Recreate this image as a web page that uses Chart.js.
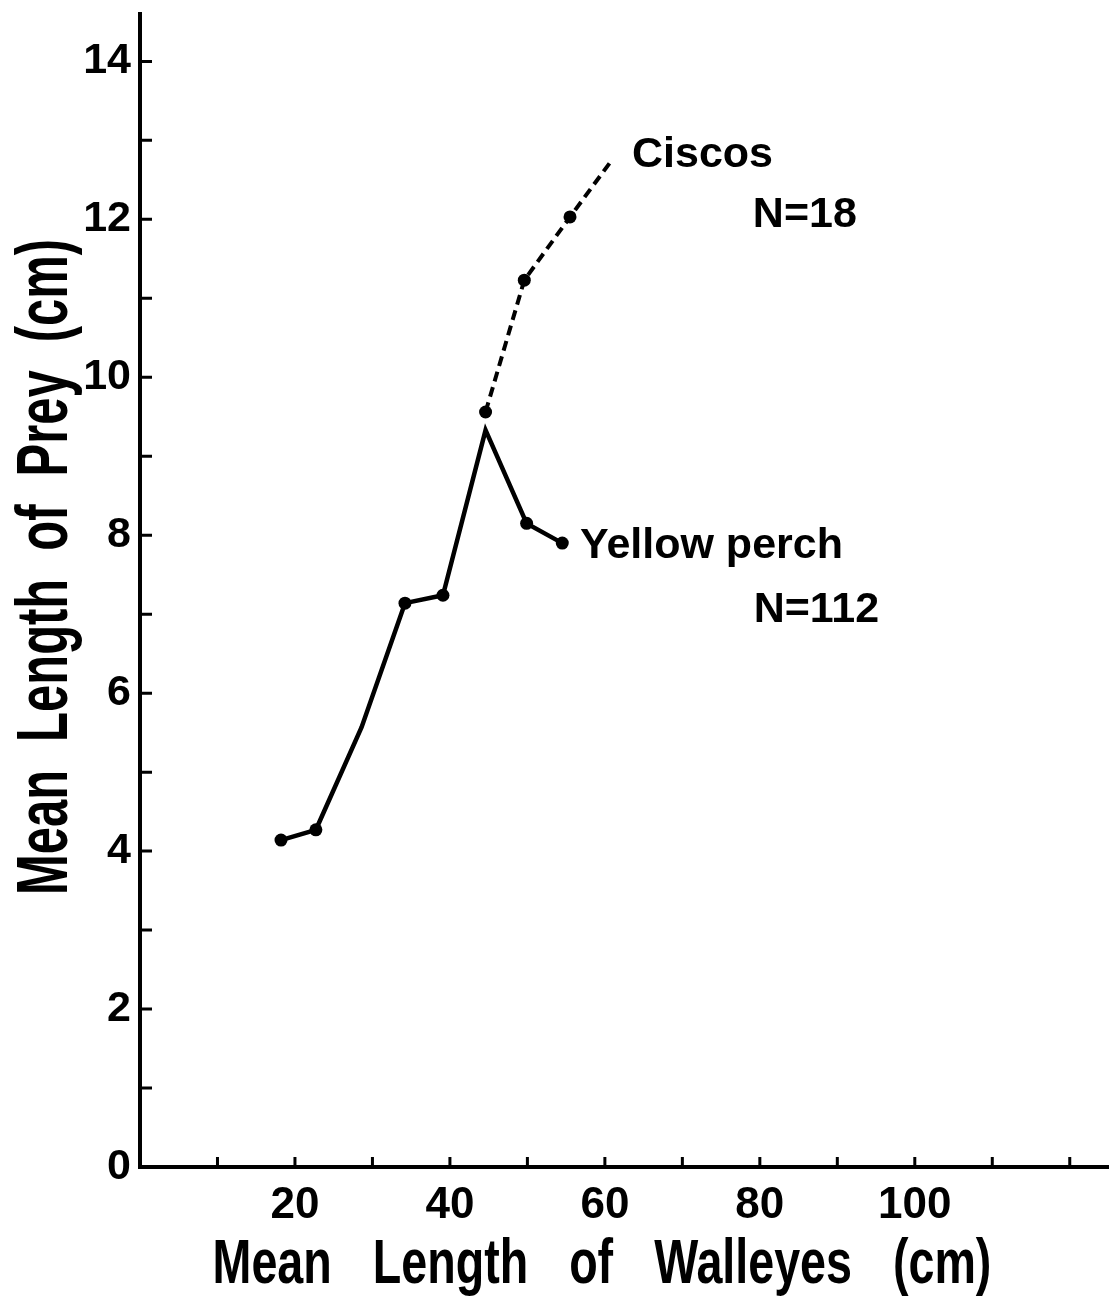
<!DOCTYPE html>
<html>
<head>
<meta charset="utf-8">
<script src="https://cdn.jsdelivr.net/npm/chart.js@4.4.0/dist/chart.umd.min.js"></script>
<style>
  html, body { margin: 0; padding: 0; background: #fff; }
  #wrap { width: 1115px; height: 1298px; }
</style>
</head>
<body>
<div id="wrap"><canvas id="preyChart" width="1115" height="1298"></canvas></div>
<script>
// walleye length (cm) vs mean length of prey eaten (cm)
const walleyeLengthPerch = [18.2, 22.7, 28.6, 34.2, 39.1, 44.6, 49.9, 54.5];
const preyLengthPerch = [4.14, 4.27, 5.57, 7.14, 7.24, 9.33, 8.15, 7.90];
const perchMarked = [true, true, false, true, true, false, true, true];

const walleyeLengthCisco = [44.6, 49.6, 55.5, 60.9];
const preyLengthCisco = [9.56, 11.23, 12.03, 12.75];
const ciscoMarked = [true, true, true, false];

const xTickValues = [0, 10, 20, 30, 40, 50, 60, 70, 80, 90, 100, 110, 120];
const xTickLabels = [20, 40, 60, 80, 100];
const yTickValues = [0, 1, 2, 3, 4, 5, 6, 7, 8, 9, 10, 11, 12, 13, 14];
const yTickLabels = [0, 2, 4, 6, 8, 10, 12, 14];

const xTitle = 'Mean Length of Walleyes (cm)';
const yTitle = 'Mean Length of Prey (cm)';
const ciscoLabel = ['Ciscos', 'N=18'];
const perchLabel = ['Yellow perch', 'N=112'];

const FONT = '"Liberation Sans", Arial, Helvetica, sans-serif';

function toPoints(xs, ys) {
  return xs.map((x, i) => ({ x: x, y: ys[i] }));
}

// tick marks point into the plot, like the printed figure
const insideTicks = {
  id: 'insideTicks',
  afterDraw(chart) {
    const ctx = chart.ctx;
    const { left, bottom } = chart.chartArea;
    const xs = chart.scales.x;
    const ys = chart.scales.y;
    ctx.save();
    ctx.strokeStyle = '#000';
    ctx.lineWidth = 3;
    ctx.beginPath();
    ys.ticks.forEach(t => {
      if (t.value <= 0) return;
      const py = ys.getPixelForValue(t.value);
      ctx.moveTo(left, py);
      ctx.lineTo(left + 12, py);
    });
    xs.ticks.forEach(t => {
      if (t.value <= 0) return;
      const px = xs.getPixelForValue(t.value);
      ctx.moveTo(px, bottom);
      ctx.lineTo(px, bottom - 10);
    });
    ctx.stroke();
    ctx.restore();
  }
};

// draws words one by one, horizontally condensed, with wide gaps between them
function spacedText(ctx, text, scaleX, gap) {
  const words = text.split(' ');
  const widths = words.map(w => ctx.measureText(w).width * scaleX);
  const total = widths.reduce((a, b) => a + b, 0) + gap * (words.length - 1);
  let x = -total / 2;
  words.forEach((w, i) => {
    ctx.save();
    ctx.translate(x, 0);
    ctx.scale(scaleX, 1);
    ctx.fillText(w, 0, 0);
    ctx.restore();
    x += widths[i] + gap;
  });
}

const axisTitles = {
  id: 'axisTitles',
  afterDraw(chart) {
    const ctx = chart.ctx;
    ctx.save();
    ctx.fillStyle = '#000';
    ctx.textAlign = 'left';
    ctx.textBaseline = 'alphabetic';

    ctx.save();
    ctx.translate(602, 1283);
    ctx.font = 'bold 63px ' + FONT;
    spacedText(ctx, xTitle, 0.74, 41);
    ctx.restore();

    ctx.save();
    ctx.translate(67, 567);
    ctx.rotate(-Math.PI / 2);
    ctx.font = 'bold 72px ' + FONT;
    spacedText(ctx, yTitle, 0.68, 28);
    ctx.restore();

    ctx.restore();
  }
};

// series names written beside the curves
const seriesNames = {
  id: 'seriesNames',
  afterDraw(chart) {
    const ctx = chart.ctx;
    const xs = chart.scales.x;
    const ys = chart.scales.y;
    const put = (text, x, y) => ctx.fillText(text, xs.getPixelForValue(x), ys.getPixelForValue(y));
    ctx.save();
    ctx.fillStyle = '#000';
    ctx.textAlign = 'left';
    ctx.textBaseline = 'alphabetic';
    ctx.font = 'bold 43px ' + FONT;
    put(ciscoLabel[0], 63.5, 12.66);
    put(ciscoLabel[1], 79.1, 11.9);
    put(perchLabel[0], 56.8, 7.71);
    put(perchLabel[1], 79.2, 6.9);
    ctx.restore();
  }
};

// fixed axis box sizes, no extra room reserved for edge labels
function fixBox(size) {
  return s => {
    if (s.isHorizontal()) s.height = size; else s.width = size;
    s.paddingTop = 0;
    s.paddingBottom = 0;
    s.paddingLeft = 0;
    s.paddingRight = 0;
  };
}

new Chart(document.getElementById('preyChart').getContext('2d'), {
  type: 'line',
  data: {
    datasets: [
      {
        label: perchLabel[0],
        data: toPoints(walleyeLengthPerch, preyLengthPerch),
        borderColor: '#000',
        backgroundColor: '#000',
        borderWidth: 4.5,
        tension: 0,
        pointRadius: ctx => perchMarked[ctx.dataIndex] ? 6.5 : 0,
        pointBackgroundColor: '#000',
        pointBorderWidth: 0
      },
      {
        label: ciscoLabel[0],
        data: toPoints(walleyeLengthCisco, preyLengthCisco),
        borderColor: '#000',
        backgroundColor: '#000',
        borderWidth: 4,
        borderDash: [10, 6],
        tension: 0,
        pointRadius: ctx => ciscoMarked[ctx.dataIndex] ? 6.5 : 0,
        pointBackgroundColor: '#000',
        pointBorderWidth: 0
      }
    ]
  },
  options: {
    responsive: false,
    animation: false,
    devicePixelRatio: 1,
    layout: { padding: { top: 14, right: -7, left: 0, bottom: 0 } },
    plugins: {
      legend: { display: false },
      tooltip: { enabled: false }
    },
    scales: {
      x: {
        type: 'linear',
        min: 0,
        max: 125,
        grid: { display: false, drawTicks: false },
        border: { display: true, color: '#000', width: 4 },
        ticks: {
          autoSkip: false,
          maxRotation: 0,
          padding: 12,
          color: '#000',
          font: { family: FONT, size: 44, weight: 'bold' },
          callback: v => xTickLabels.includes(v) ? String(v) : ''
        },
        afterBuildTicks: s => { s.ticks = xTickValues.map(v => ({ value: v })); },
        afterFit: fixBox(131)
      },
      y: {
        type: 'linear',
        min: 0,
        max: 14.6,
        grid: { display: false, drawTicks: false },
        border: { display: true, color: '#000', width: 4 },
        ticks: {
          autoSkip: false,
          padding: 9,
          color: '#000',
          font: { family: FONT, size: 43, weight: 'bold' },
          callback: v => yTickLabels.includes(v) ? String(v) : ''
        },
        afterBuildTicks: s => { s.ticks = yTickValues.map(v => ({ value: v })); },
        afterFit: fixBox(140)
      }
    }
  },
  plugins: [insideTicks, axisTitles, seriesNames]
});
</script>
</body>
</html>
